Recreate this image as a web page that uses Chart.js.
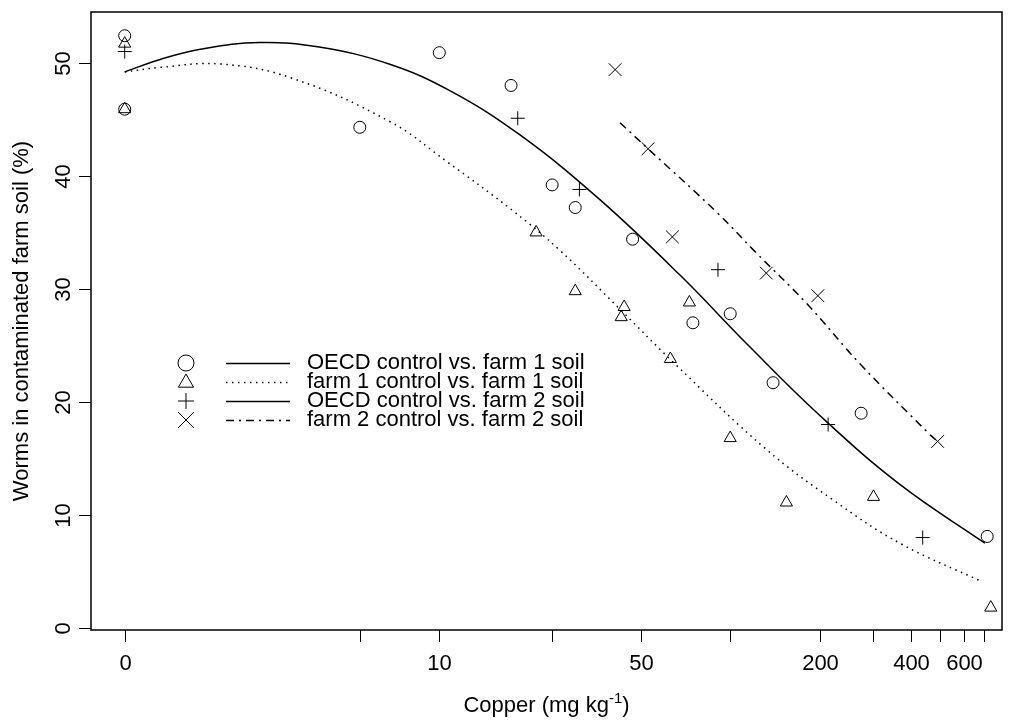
<!DOCTYPE html>
<html>
<head>
<meta charset="utf-8">
<script src="https://cdn.jsdelivr.net/npm/chart.js"></script>
<style>
  html, body { margin: 0; padding: 0; background: #fff; }
  #wrap { width: 1015px; height: 724px; }
</style>
</head>
<body>
<div id="wrap"><canvas id="chart"></canvas></div>
<script>
// x axis is log10(copper + 1)
const copperTicks = [0, 5, 10, 25, 50, 100, 200, 300, 400, 500, 600, 700];
const copperTickLabels = ['0', '', '10', '', '50', '', '200', '', '400', '', '600', ''];
const wormTicks = [0, 10, 20, 30, 40, 50];

// observed points
const oecdFarm1Cu = [0, 0, 5, 10, 18, 25, 30, 47, 75, 100, 139, 273, 715];
const oecdFarm1Worms = [52.4, 45.9, 44.3, 50.9, 48.0, 39.2, 37.2, 34.4, 27.0, 27.8, 21.7, 19.0, 8.1];
const farm1Cu = [0, 0, 22, 30, 44, 43, 63, 73, 100, 154, 300, 735];
const farm1Worms = [51.7, 45.9, 35.0, 29.8, 28.4, 27.5, 23.8, 28.8, 16.8, 11.1, 11.6, 1.8];
const oecdFarm2Cu = [0, 19, 31, 91, 212, 437];
const oecdFarm2Worms = [51.0, 45.1, 38.8, 31.7, 18.0, 8.0];
const farm2Cu = [41, 53, 64, 132, 196, 490];
const farm2Worms = [49.4, 42.4, 34.6, 31.4, 29.4, 16.5];

// fitted curves
const oecdFitCu = [0, 0.31, 0.78, 1.8, 3.4, 6.5, 11, 19.4, 36.4, 68, 116, 199, 367, 703];
const oecdFitWorms = [49.2, 50.3, 51.2, 51.8, 51.4, 49.9, 47.5, 43.6, 37.9, 31.2, 24.9, 18.8, 12.7, 7.5];
const farm1FitCu = [0, 0.31, 1.07, 2.53, 6.55, 10.6, 18.3, 26.6, 42.6, 64.5, 132, 221, 367, 686];
const farm1FitWorms = [49.2, 49.6, 49.9, 48.7, 44.8, 41.3, 36.9, 33.4, 28.2, 23.5, 15.8, 11.3, 7.5, 4.1];
const farm2FitCu = [42.6, 53, 90, 121, 180, 270, 462, 490];
const farm2FitWorms = [44.7, 42.4, 36.8, 33.3, 28.7, 23.4, 17.1, 16.5];

const legendLabels = [
  'OECD control vs. farm 1 soil',
  'farm 1 control vs. farm 1 soil',
  'OECD control vs. farm 2 soil',
  'farm 2 control vs. farm 2 soil'
];

const FONT_FAMILY = '"Liberation Sans", Arial, Helvetica, sans-serif';
const FONT = '22px ' + FONT_FAMILY;
const DOTTED = [1.5, 4.5];
const DASHDOT = [8, 5, 2, 5];

const tx = (v) => Math.log10(v + 1);
const toPoints = (xs, ys) => xs.map((x, i) => ({ x: tx(x), y: ys[i] }));

function pointSet(xs, ys, style, radius) {
  return {
    data: toPoints(xs, ys),
    showLine: false,
    pointStyle: style,
    pointRadius: radius,
    pointBorderColor: '#000',
    pointBackgroundColor: 'rgba(0,0,0,0)',
    pointBorderWidth: 1,
  };
}

function fitSet(xs, ys, dash) {
  return {
    data: toPoints(xs, ys),
    showLine: true,
    borderColor: '#000',
    borderWidth: 1.5,
    borderDash: dash,
    pointRadius: 0,
    tension: 0.4,
  };
}

function drawSymbol(ctx, kind, x, y, r) {
  ctx.beginPath();
  if (kind === 'circle') {
    ctx.arc(x, y, r, 0, Math.PI * 2);
  } else if (kind === 'triangle') {
    ctx.moveTo(x, y - r);
    ctx.lineTo(x + r * 0.95, y + r * 0.65);
    ctx.lineTo(x - r * 0.95, y + r * 0.65);
    ctx.closePath();
  } else if (kind === 'plus') {
    ctx.moveTo(x - r, y); ctx.lineTo(x + r, y);
    ctx.moveTo(x, y - r); ctx.lineTo(x, y + r);
  } else {
    ctx.moveTo(x - r, y - r); ctx.lineTo(x + r, y + r);
    ctx.moveTo(x - r, y + r); ctx.lineTo(x + r, y - r);
  }
  ctx.stroke();
}

const frame = {
  id: 'frame',
  afterDraw(chart) {
    const { ctx, chartArea: a, scales: { x, y } } = chart;
    ctx.save();
    ctx.strokeStyle = '#000';
    ctx.fillStyle = '#000';

    ctx.lineWidth = 1.5;
    ctx.strokeRect(a.left, a.top, a.right - a.left, a.bottom - a.top);

    ctx.lineWidth = 1;
    ctx.font = FONT;
    ctx.textAlign = 'center';
    ctx.textBaseline = 'middle';

    copperTicks.forEach((v, i) => {
      const px = Math.round(x.getPixelForValue(tx(v))) + 0.5;
      ctx.beginPath();
      ctx.moveTo(px, a.bottom);
      ctx.lineTo(px, a.bottom + 12);
      ctx.stroke();
      if (copperTickLabels[i]) ctx.fillText(copperTickLabels[i], px, a.bottom + 34);
    });

    wormTicks.forEach((v) => {
      const py = Math.round(y.getPixelForValue(v)) + 0.5;
      ctx.beginPath();
      ctx.moveTo(a.left, py);
      ctx.lineTo(a.left - 12, py);
      ctx.stroke();
      ctx.save();
      ctx.translate(a.left - 27, py);
      ctx.rotate(-Math.PI / 2);
      ctx.fillText(String(v), 0, 0);
      ctx.restore();
    });

    // axis titles
    const mid = (a.left + a.right) / 2;
    const main = 'Copper (mg kg', sup = '-1', close = ')';
    ctx.font = FONT;
    const w1 = ctx.measureText(main).width;
    const w3 = ctx.measureText(close).width;
    ctx.font = '15px ' + FONT_FAMILY;
    const w2 = ctx.measureText(sup).width;
    const sx = mid - (w1 + w2 + w3) / 2;
    ctx.textAlign = 'left';
    ctx.font = FONT;
    ctx.fillText(main, sx, 706);
    ctx.font = '15px ' + FONT_FAMILY;
    ctx.fillText(sup, sx + w1, 699);
    ctx.font = FONT;
    ctx.fillText(close, sx + w1 + w2, 706);

    ctx.save();
    ctx.textAlign = 'center';
    ctx.translate(22, (a.top + a.bottom) / 2);
    ctx.rotate(-Math.PI / 2);
    ctx.fillText('Worms in contaminated farm soil (%)', 0, 0);
    ctx.restore();

    // legend
    const rows = [363, 382, 401, 420];
    const symbols = ['circle', 'triangle', 'plus', 'cross'];
    const dashes = [[], DOTTED, [], DASHDOT];
    ctx.textAlign = 'left';
    rows.forEach((ry, i) => {
      ctx.setLineDash([]);
      ctx.lineWidth = 1;
      drawSymbol(ctx, symbols[i], 186, ry, 8);
      ctx.setLineDash(dashes[i]);
      ctx.lineWidth = 1.5;
      ctx.beginPath();
      ctx.moveTo(226, ry + 0.5);
      ctx.lineTo(290, ry + 0.5);
      ctx.stroke();
      ctx.setLineDash([]);
      ctx.fillText(legendLabels[i], 307, ry);
    });
    ctx.restore();
  }
};

new Chart(document.getElementById('chart'), {
  type: 'scatter',
  data: {
    datasets: [
      fitSet(oecdFitCu, oecdFitWorms, []),
      fitSet(farm1FitCu, farm1FitWorms, DOTTED),
      fitSet(farm2FitCu, farm2FitWorms, DASHDOT),
      pointSet(oecdFarm1Cu, oecdFarm1Worms, 'circle', 6),
      pointSet(farm1Cu, farm1Worms, 'triangle', 7),
      pointSet(oecdFarm2Cu, oecdFarm2Worms, 'cross', 7),
      pointSet(farm2Cu, farm2Worms, 'crossRot', 9),
    ],
  },
  options: {
    responsive: true,
    maintainAspectRatio: false,
    animation: false,
    layout: { padding: { left: 91, top: 12, right: 13, bottom: 94 } },
    scales: {
      x: { type: 'linear', display: false, min: -0.1116, max: 2.904 },
      y: { type: 'linear', display: false, min: -0.18, max: 54.5 },
    },
    plugins: {
      legend: { display: false },
      tooltip: { enabled: false },
    },
  },
  plugins: [frame],
});
</script>
</body>
</html>
